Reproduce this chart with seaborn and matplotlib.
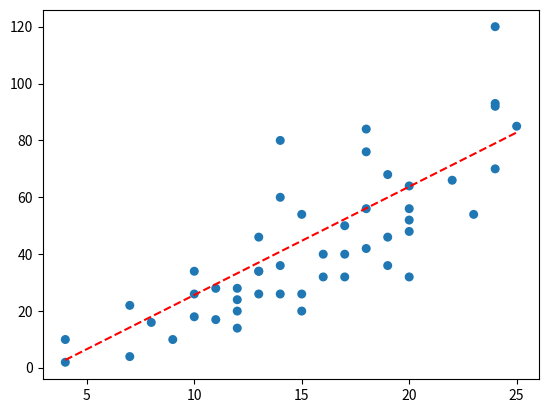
import numpy as np
import pandas as pd
import matplotlib
matplotlib.use("Agg")
import matplotlib.pyplot as plt
import seaborn as sns

speed = [4, 4, 7, 7, 8, 9, 10, 10, 10, 11, 11, 12, 12, 12, 12, 13, 13, 13, 13,
         14, 14, 14, 14, 15, 15, 15, 16, 16, 17, 17, 17, 18, 18, 18, 18, 19, 19,
         19, 20, 20, 20, 20, 20, 22, 23, 24, 24, 24, 24, 25]
dist = [2, 10, 4, 22, 16, 10, 18, 26, 34, 17, 28, 14, 20, 24, 28, 26, 34, 34, 46,
        26, 36, 60, 80, 20, 26, 54, 32, 40, 32, 40, 50, 42, 56, 76, 84, 36, 46,
        68, 32, 48, 52, 56, 64, 66, 54, 70, 92, 93, 120, 85]

# dashed trend line endpoints
line_x = [4, 25]
line_y = [2.8, 82.8]

plt.rcParams["font.family"] = ["Noto Sans CJK KR", "DejaVu Sans"]

df = pd.DataFrame({"speed": speed, "dist": dist})

fig, ax = plt.subplots(figsize=(5.48, 4.12), dpi=100)
fig.subplots_adjust(left=0.078, right=0.984, top=0.976, bottom=0.08)

sns.scatterplot(data=df, x="speed", y="dist", ax=ax, color="#1f77b4",
                s=42, edgecolor="none")
ax.plot(line_x, line_y, color="red", linestyle="--")

ax.set_xlabel("")
ax.set_ylabel("")
ax.set_xticks([5, 10, 15, 20, 25])
ax.set_yticks([0, 20, 40, 60, 80, 100, 120])

plt.savefig("out.png", dpi=100)
plt.close()
